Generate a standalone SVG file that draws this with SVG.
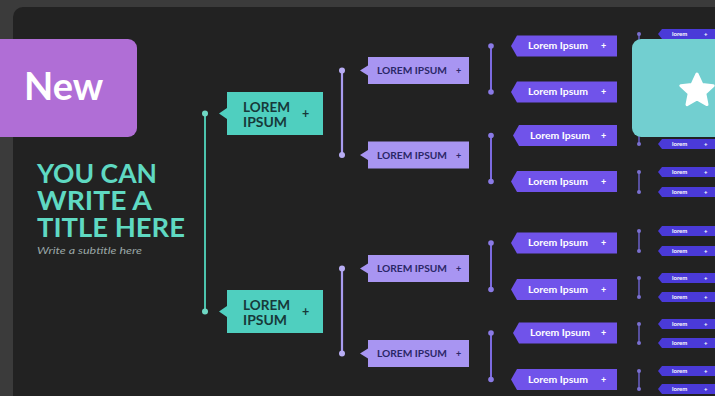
<svg xmlns="http://www.w3.org/2000/svg" width="715" height="396" viewBox="0 0 715 396">
<style>
text{font-family:Lato,"Open Sans","Liberation Sans",sans-serif;font-weight:700}
.t1{fill:#4fcfbf}.tx1{fill:#17393a;font-size:12.5px}
.t2{fill:#a895f2}.tx2{fill:#2b2768;font-size:9px}
.t3{fill:#7053ea}.tx3{fill:#ffffff;font-size:9px}
.t4{fill:#4a3ad8}.tx4{fill:#ffffff;font-size:6px}
.ttl{font-size:26px;fill:#5fd9c2}
.l1{stroke:#4cc3ad;stroke-width:2}.d1{fill:#6fd8c4}
.l2{stroke:#a99cf0;stroke-width:2.2}.d2{fill:#b8adf4}
.l3{stroke:#7d6be0;stroke-width:2}.d3{fill:#8a7ae6}
.l4{stroke:#6a5fc8;stroke-width:1.5}.d4{fill:#7a70d0}
</style>
<rect x="0" y="0" width="715" height="396" fill="#3b3b3b"/>
<rect x="13" y="7" width="720" height="400" rx="10" fill="#222222"/>

<g id="connectors">
  <line class="l1" x1="205" y1="113.5" x2="205" y2="311.5"/>
  <circle class="d1" cx="205" cy="113.5" r="3"/><circle class="d1" cx="205" cy="311.5" r="3"/>
  <line class="l2" x1="342" y1="70.5" x2="342" y2="155"/>
  <circle class="d2" cx="342" cy="70.5" r="3"/><circle class="d2" cx="342" cy="155" r="3"/>
  <line class="l2" x1="342" y1="268.5" x2="342" y2="353.5"/>
  <circle class="d2" cx="342" cy="268.5" r="3"/><circle class="d2" cx="342" cy="353.5" r="3"/>
  <line class="l3" x1="491" y1="46" x2="491" y2="92"/>
  <circle class="d3" cx="491" cy="46" r="2.8"/><circle class="d3" cx="491" cy="92" r="2.8"/>
  <line class="l3" x1="491" y1="135.5" x2="491" y2="181.5"/>
  <circle class="d3" cx="491" cy="135.5" r="2.8"/><circle class="d3" cx="491" cy="181.5" r="2.8"/>
  <line class="l3" x1="491" y1="243" x2="491" y2="289.5"/>
  <circle class="d3" cx="491" cy="243" r="2.8"/><circle class="d3" cx="491" cy="289.5" r="2.8"/>
  <line class="l3" x1="491" y1="333" x2="491" y2="379.5"/>
  <circle class="d3" cx="491" cy="333" r="2.8"/><circle class="d3" cx="491" cy="379.5" r="2.8"/>
  <line class="l4" x1="639" y1="34" x2="639" y2="54"/><circle class="d4" cx="639" cy="34" r="2"/>
  <line class="l4" x1="639" y1="125" x2="639" y2="144"/><circle class="d4" cx="639" cy="144" r="2"/>
  <line class="l4" x1="639" y1="172" x2="639" y2="192"/><circle class="d4" cx="639" cy="172" r="2"/><circle class="d4" cx="639" cy="192" r="2"/>
  <line class="l4" x1="639" y1="231" x2="639" y2="251"/><circle class="d4" cx="639" cy="231" r="2"/><circle class="d4" cx="639" cy="251" r="2"/>
  <line class="l4" x1="639" y1="278" x2="639" y2="297"/><circle class="d4" cx="639" cy="278" r="2"/><circle class="d4" cx="639" cy="297" r="2"/>
  <line class="l4" x1="639" y1="324" x2="639" y2="343"/><circle class="d4" cx="639" cy="324" r="2"/><circle class="d4" cx="639" cy="343" r="2"/>
  <line class="l4" x1="639" y1="371" x2="639" y2="389"/><circle class="d4" cx="639" cy="371" r="2"/><circle class="d4" cx="639" cy="389" r="2"/>
</g>

<g id="title">
  <text class="ttl"><tspan x="37" y="183" textLength="120" lengthAdjust="spacingAndGlyphs">YOU CAN</tspan><tspan x="37" y="210" textLength="115" lengthAdjust="spacingAndGlyphs">WRITE A</tspan><tspan x="37" y="237" textLength="148" lengthAdjust="spacingAndGlyphs">TITLE HERE</tspan></text>
  <text x="37" y="254" font-size="9" font-style="italic" fill="#9aa6a6" style="font-weight:400" textLength="105" lengthAdjust="spacingAndGlyphs">Write a subtitle here</text>
</g>

<g id="n1a"><polygon class="t1" points="227,92 323,92 323,135 227,135 227,119 219,113.5 227,108"/>
  <text class="tx1" x="243" y="112" textLength="47" lengthAdjust="spacingAndGlyphs">LOREM</text><text class="tx1" x="243" y="127" textLength="44" lengthAdjust="spacingAndGlyphs">IPSUM</text><text class="tx1" x="302" y="118">+</text></g>
<g id="n1b"><polygon class="t1" points="227,290 323,290 323,333 227,333 227,317 219,311.5 227,306"/>
  <text class="tx1" x="243" y="310" textLength="47" lengthAdjust="spacingAndGlyphs">LOREM</text><text class="tx1" x="243" y="325" textLength="44" lengthAdjust="spacingAndGlyphs">IPSUM</text><text class="tx1" x="302" y="316">+</text></g>

<g id="n2a"><polygon class="t2" points="368,57 469,57 469,84 368,84 368,75.5 360,70.5 368,65.5"/><text class="tx2" x="377" y="74" textLength="70" lengthAdjust="spacingAndGlyphs">LOREM IPSUM</text><text class="tx2" x="456" y="74">+</text></g>
<g id="n2b"><polygon class="t2" points="368,141.5 469,141.5 469,168.5 368,168.5 368,160 360,155 368,150"/><text class="tx2" x="377" y="158.5" textLength="70" lengthAdjust="spacingAndGlyphs">LOREM IPSUM</text><text class="tx2" x="456" y="158.5">+</text></g>
<g id="n2c"><polygon class="t2" points="368,255 469,255 469,282 368,282 368,273.5 360,268.5 368,263.5"/><text class="tx2" x="377" y="272" textLength="70" lengthAdjust="spacingAndGlyphs">LOREM IPSUM</text><text class="tx2" x="456" y="272">+</text></g>
<g id="n2d"><polygon class="t2" points="368,340 469,340 469,367 368,367 368,358.5 360,353.5 368,348.5"/><text class="tx2" x="377" y="357" textLength="70" lengthAdjust="spacingAndGlyphs">LOREM IPSUM</text><text class="tx2" x="456" y="357">+</text></g>

<g id="n3a"><polygon class="t3" points="517,35.5 617,35.5 617,56.5 517,56.5 511,46"/><text class="tx3" x="528" y="49.2" textLength="60" lengthAdjust="spacingAndGlyphs">Lorem Ipsum</text><text class="tx3" x="601" y="49.2">+</text></g>
<g id="n3b"><polygon class="t3" points="517,81.5 617,81.5 617,102.5 517,102.5 511,92"/><text class="tx3" x="528" y="95.2" textLength="60" lengthAdjust="spacingAndGlyphs">Lorem Ipsum</text><text class="tx3" x="601" y="95.2">+</text></g>
<g id="n3c"><polygon class="t3" points="519,125 617,125 617,146 519,146 513,135.5"/><text class="tx3" x="530" y="138.7" textLength="60" lengthAdjust="spacingAndGlyphs">Lorem Ipsum</text><text class="tx3" x="601" y="138.7">+</text></g>
<g id="n3d"><polygon class="t3" points="517,171 617,171 617,192 517,192 511,181.5"/><text class="tx3" x="528" y="184.7" textLength="60" lengthAdjust="spacingAndGlyphs">Lorem Ipsum</text><text class="tx3" x="601" y="184.7">+</text></g>
<g id="n3e"><polygon class="t3" points="517,232.5 617,232.5 617,253.5 517,253.5 511,243"/><text class="tx3" x="528" y="246.2" textLength="60" lengthAdjust="spacingAndGlyphs">Lorem Ipsum</text><text class="tx3" x="601" y="246.2">+</text></g>
<g id="n3f"><polygon class="t3" points="517,279 617,279 617,300 517,300 511,289.5"/><text class="tx3" x="528" y="292.7" textLength="60" lengthAdjust="spacingAndGlyphs">Lorem Ipsum</text><text class="tx3" x="601" y="292.7">+</text></g>
<g id="n3g"><polygon class="t3" points="519,322.5 617,322.5 617,343.5 519,343.5 513,333"/><text class="tx3" x="530" y="336.2" textLength="60" lengthAdjust="spacingAndGlyphs">Lorem Ipsum</text><text class="tx3" x="601" y="336.2">+</text></g>
<g id="n3h"><polygon class="t3" points="517,369 617,369 617,390 517,390 511,379.5"/><text class="tx3" x="528" y="382.7" textLength="60" lengthAdjust="spacingAndGlyphs">Lorem Ipsum</text><text class="tx3" x="601" y="382.7">+</text></g>

<g id="n4a"><polygon class="t4" points="662,29 716,29 716,39 662,39 658,34"/><text class="tx4" x="672" y="36.2">lorem</text><text class="tx4" x="704" y="36.2">+</text></g>
<g id="n4b"><polygon class="t4" points="662,139 716,139 716,149 662,149 658,144"/><text class="tx4" x="672" y="146.2">lorem</text><text class="tx4" x="704" y="146.2">+</text></g>
<g id="n4c"><polygon class="t4" points="662,167 716,167 716,177 662,177 658,172"/><text class="tx4" x="672" y="174.2">lorem</text><text class="tx4" x="704" y="174.2">+</text></g>
<g id="n4d"><polygon class="t4" points="662,187 716,187 716,197 662,197 658,192"/><text class="tx4" x="672" y="194.2">lorem</text><text class="tx4" x="704" y="194.2">+</text></g>
<g id="n4e"><polygon class="t4" points="662,226 716,226 716,236 662,236 658,231"/><text class="tx4" x="672" y="233.2">lorem</text><text class="tx4" x="704" y="233.2">+</text></g>
<g id="n4f"><polygon class="t4" points="662,246 716,246 716,256 662,256 658,251"/><text class="tx4" x="672" y="253.2">lorem</text><text class="tx4" x="704" y="253.2">+</text></g>
<g id="n4g"><polygon class="t4" points="662,273 716,273 716,283 662,283 658,278"/><text class="tx4" x="672" y="280.2">lorem</text><text class="tx4" x="704" y="280.2">+</text></g>
<g id="n4h"><polygon class="t4" points="662,292 716,292 716,302 662,302 658,297"/><text class="tx4" x="672" y="299.2">lorem</text><text class="tx4" x="704" y="299.2">+</text></g>
<g id="n4i"><polygon class="t4" points="662,319 716,319 716,329 662,329 658,324"/><text class="tx4" x="672" y="326.2">lorem</text><text class="tx4" x="704" y="326.2">+</text></g>
<g id="n4j"><polygon class="t4" points="662,338 716,338 716,348 662,348 658,343"/><text class="tx4" x="672" y="345.2">lorem</text><text class="tx4" x="704" y="345.2">+</text></g>
<g id="n4k"><polygon class="t4" points="662,366 716,366 716,376 662,376 658,371"/><text class="tx4" x="672" y="373.2">lorem</text><text class="tx4" x="704" y="373.2">+</text></g>
<g id="n4l"><polygon class="t4" points="662,384 716,384 716,394 662,394 658,389"/><text class="tx4" x="672" y="391.2">lorem</text><text class="tx4" x="704" y="391.2">+</text></g>

<g id="star-card">
  <rect x="632" y="39" width="100" height="98" rx="9" fill="#72cfd0"/>
  <polygon points="697,74 702,84.6 713.2,85.7 704.8,93.4 707,104.6 697,99 687,104.6 689.2,93.4 680.8,85.7 692,84.6" fill="#ffffff" stroke="#ffffff" stroke-width="3" stroke-linejoin="round"/>
</g>

<g id="new-badge">
  <rect x="-10" y="39" width="147" height="98" rx="9" fill="#b06ed6"/>
  <text x="24" y="100" font-size="38" fill="#ffffff">New</text>
</g>
</svg>
